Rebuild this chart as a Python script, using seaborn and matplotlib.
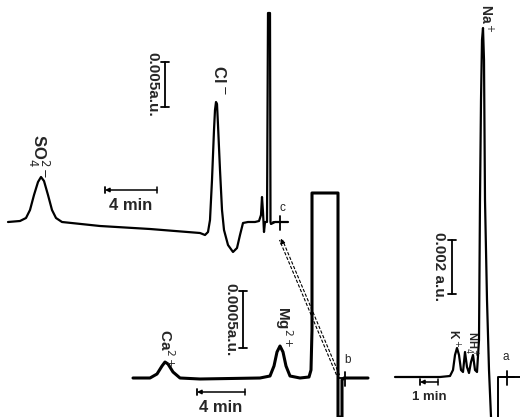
import numpy as np
import pandas as pd
import matplotlib
matplotlib.use("Agg")
import matplotlib.pyplot as plt
import seaborn as sns

# Traces (horizontal position, vertical position in picture units, y downwards)
# trace c: anions
c_x = [8, 20, 26, 30, 34, 38, 41, 44, 48, 52, 56, 62, 100, 150, 200, 205, 208, 210, 212, 214,
       215, 216, 217, 218, 220, 222, 224, 228, 233, 237, 240, 243, 248, 255, 259, 261, 262, 263,
       264, 265, 267, 268, 269, 270, 270.5, 271, 275, 288]
c_y = [222, 221, 218, 210, 195, 182, 177, 181, 195, 210, 218, 222, 226, 229, 233, 235, 232, 220, 180, 130,
       110, 102, 104, 125, 170, 210, 230, 245, 252, 248, 235, 223, 222, 222, 221, 215, 197, 212,
       232, 222, 222, 13, 13, 13, 222, 224, 222, 222]

# trace b: Ca, Mg
b_x = [133, 150, 157, 162, 165, 168, 173, 180, 200, 260, 270, 274, 277, 280, 283, 286, 290, 300,
       309, 311, 312, 312, 338, 338, 342, 342, 344, 368]
b_y = [378, 378, 374, 366, 362, 364, 372, 378, 379, 378, 376, 366, 352, 346, 352, 366, 376, 378,
       377, 370, 330, 193, 193, 417, 417, 380, 378, 378]

# trace a: K, NH4, Na
a_x = [395, 440, 450, 453, 455, 457, 459, 461, 463, 465, 467, 469, 471, 473, 475, 477, 479, 480,
       481, 482, 483, 484, 485, 487, 489, 491]
a_y = [377, 377, 376, 370, 355, 348, 355, 370, 372, 352, 367, 373, 362, 355, 370, 372, 340, 200,
       100, 40, 28, 60, 200, 300, 370, 417]
a2_x = [498, 498, 520]
a2_y = [417, 377, 377]

# injection marks
mark_x = [280, 345, 507]
mark_y = [222, 378, 377]
mark_lab = ["c", "b", "a"]
mark_lab_x = [282, 348, 506]
mark_lab_y = [208, 360, 357]

# peak labels
ion_lab = [r"SO$_4^{2-}$", r"Cl$^-$", r"Ca$^{2+}$", r"Mg$^{2+}$", r"Na$^+$", r"K$^+$", r"NH$_4^+$"]
ion_x = [39, 219, 166, 284, 486, 453, 471]
ion_y = [156, 80, 348, 326, 18, 338, 344]
ion_size = [12, 12, 11, 11, 10, 8.5, 8]

# scale bars
vbar_x = [165, 243, 452]
vbar_y0 = [62, 291, 240]
vbar_y1 = [107, 348, 294]
vbar_lab = ["0.005a.u.", "0.0005a.u.", "0.002 a.u."]
hbar_x0 = [105, 197, 420]
hbar_x1 = [157, 245, 438]
hbar_y = [190, 392, 382]
hbar_lab = ["4 min", "4 min", "1 min"]
hbar_size = [12, 12, 9.5]

sns.set_style("white")
plt.rcParams['font.family'] = ['Liberation Sans', 'DejaVu Sans']

fig = plt.figure(figsize=(5.2, 4.17), dpi=100)
ax = fig.add_axes([0, 0, 1, 1])

for xs, ys, w in [(c_x, c_y, 1.6), (b_x, b_y, 2.2), (a_x, a_y, 1.6), (a2_x, a2_y, 1.4)]:
    df = pd.DataFrame({"x": xs, "y": ys})
    sns.lineplot(data=df, x="x", y="y", sort=False, estimator=None, color="black", lw=w, ax=ax)

# markers
for mx, my, ml, lx, ly in zip(mark_x, mark_y, mark_lab, mark_lab_x, mark_lab_y):
    ax.plot([mx - 7, mx + 7], [my, my], color="black", lw=1.3)
    ax.plot([mx, mx], [my - 6, my + 8], color="black", lw=1.3)
    ax.text(lx, ly, ml, fontsize=8.5, ha="center", va="center")

# dashed double arrow from b to c
for off in [-1.5, 1.5]:
    ax.plot([338 + off, 281 + off], [375, 240], color="black", lw=0.8, ls=(0, (3, 1.5)))
ax.annotate("", xy=(280, 236), xytext=(283, 244),
            arrowprops=dict(arrowstyle="-|>", color="black", lw=0.8, mutation_scale=7))

# ion labels
for lab, x, y, s in zip(ion_lab, ion_x, ion_y, ion_size):
    ax.text(x, y, lab, rotation=-90, fontsize=s, fontweight="bold", ha="center", va="center")

# vertical scale bars
for x, y0, y1, lab in zip(vbar_x, vbar_y0, vbar_y1, vbar_lab):
    ax.plot([x, x], [y0, y1], color="black", lw=1.3)
    ax.plot([x - 4, x + 4], [y0, y0], color="black", lw=1.3)
    ax.plot([x - 4, x + 4], [y1, y1], color="black", lw=1.3)
    ax.text(x - 13, (y0 + y1) / 2, lab, rotation=-90, fontsize=11, fontweight="bold",
            ha="center", va="center")

# horizontal scale bars
for x0, x1, y, lab, s in zip(hbar_x0, hbar_x1, hbar_y, hbar_lab, hbar_size):
    ax.annotate("", xy=(x0, y), xytext=(x1, y),
                arrowprops=dict(arrowstyle="-|>", color="black", lw=1.1, mutation_scale=6,
                                shrinkA=0, shrinkB=0))
    ax.plot([x0, x0], [y - 3, y + 3], color="black", lw=1.3)
    ax.plot([x1, x1], [y - 3, y + 3], color="black", lw=1.1)
    ax.text((x0 + x1) / 2, y + 15, lab, fontsize=s, fontweight="bold", ha="center", va="center")

ax.set_xlim(0, 520)
ax.set_ylim(417, 0)
ax.axis("off")

plt.savefig("out.png", dpi=100)
